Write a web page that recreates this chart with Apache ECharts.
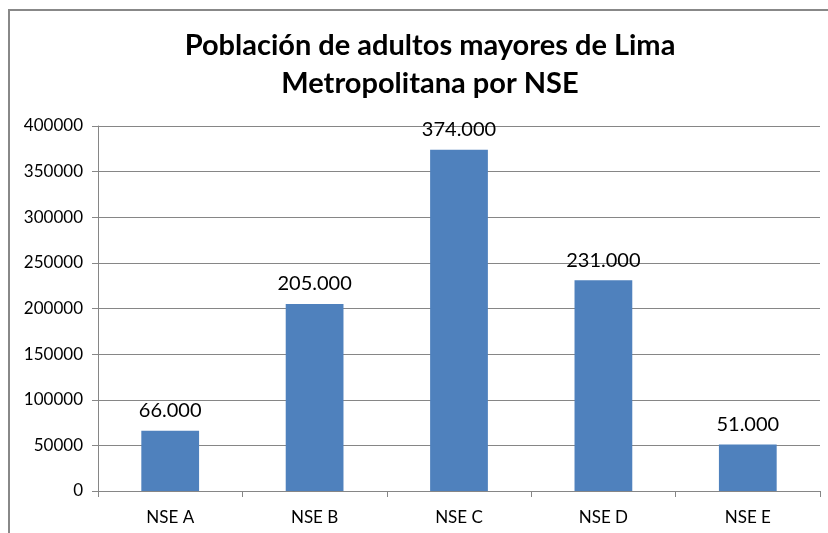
<!DOCTYPE html>
<html>
<head>
<meta charset="utf-8">
<script src="https://cdn.jsdelivr.net/npm/echarts@6/dist/echarts.min.js"></script>
<style>
  html, body { margin: 0; padding: 0; background: #fff; }
  #chart { width: 828px; height: 533px; }
</style>
</head>
<body>
<div id="chart"></div>
<script>
// datos del grafico
var categories = ['NSE A', 'NSE B', 'NSE C', 'NSE D', 'NSE E'];
var poblacion = [66000, 205000, 374000, 231000, 51000];
var yTicks = [0, 50000, 100000, 150000, 200000, 250000, 300000, 350000, 400000];

var chart = echarts.init(document.getElementById('chart'));

// formato con punto de miles, como en el original
function miles(v) {
    return String(v).replace(/\B(?=(\d{3})+(?!\d))/g, '.');
}

var option = {
    backgroundColor: '#fff',
    animation: false,
    textStyle: { fontFamily: 'Lato, "Liberation Sans", sans-serif' },
    title: {
        text: 'Población de adultos mayores de Lima\nMetropolitana por NSE',
        left: 425,
        top: 22,
        textAlign: 'center',
        textStyle: {
            fontSize: 29,
            fontWeight: 'bold',
            color: '#000',
            lineHeight: 38,
            fontFamily: 'Lato, "Liberation Sans", sans-serif'
        }
    },
    graphic: [
        {
            type: 'rect',
            shape: { x: 9, y: 10, width: 840, height: 560 },
            style: { fill: 'none', stroke: '#888', lineWidth: 2 },
            silent: true
        }
    ],
    grid: { left: 98, right: 8, top: 126, bottom: 42, containLabel: false },
    xAxis: {
        type: 'category',
        data: categories,
        axisLine: { lineStyle: { color: '#868686', width: 1 } },
        axisTick: { show: true, length: 6, lineStyle: { color: '#868686' } },
        axisLabel: { color: '#000', fontSize: 17, margin: 18 }
    },
    yAxis: {
        type: 'value',
        min: yTicks[0],
        max: yTicks[yTicks.length - 1],
        interval: yTicks[1] - yTicks[0],
        axisLine: { show: true, lineStyle: { color: '#868686', width: 1 } },
        axisTick: { show: true, length: 6, lineStyle: { color: '#868686' } },
        splitLine: { lineStyle: { color: '#868686', width: 1 } },
        axisLabel: {
            color: '#000',
            fontSize: 17,
            margin: 15,
            formatter: function (v) { return String(v); }
        }
    },
    series: [
        {
            type: 'bar',
            data: poblacion,
            barWidth: '40%',
            itemStyle: { color: '#4f81bd' },
            label: {
                show: true,
                position: 'top',
                distance: 10,
                fontSize: 20,
                color: '#000',
                formatter: function (p) { return miles(p.value); }
            }
        }
    ]
};

chart.setOption(option);
</script>
</body>
</html>
